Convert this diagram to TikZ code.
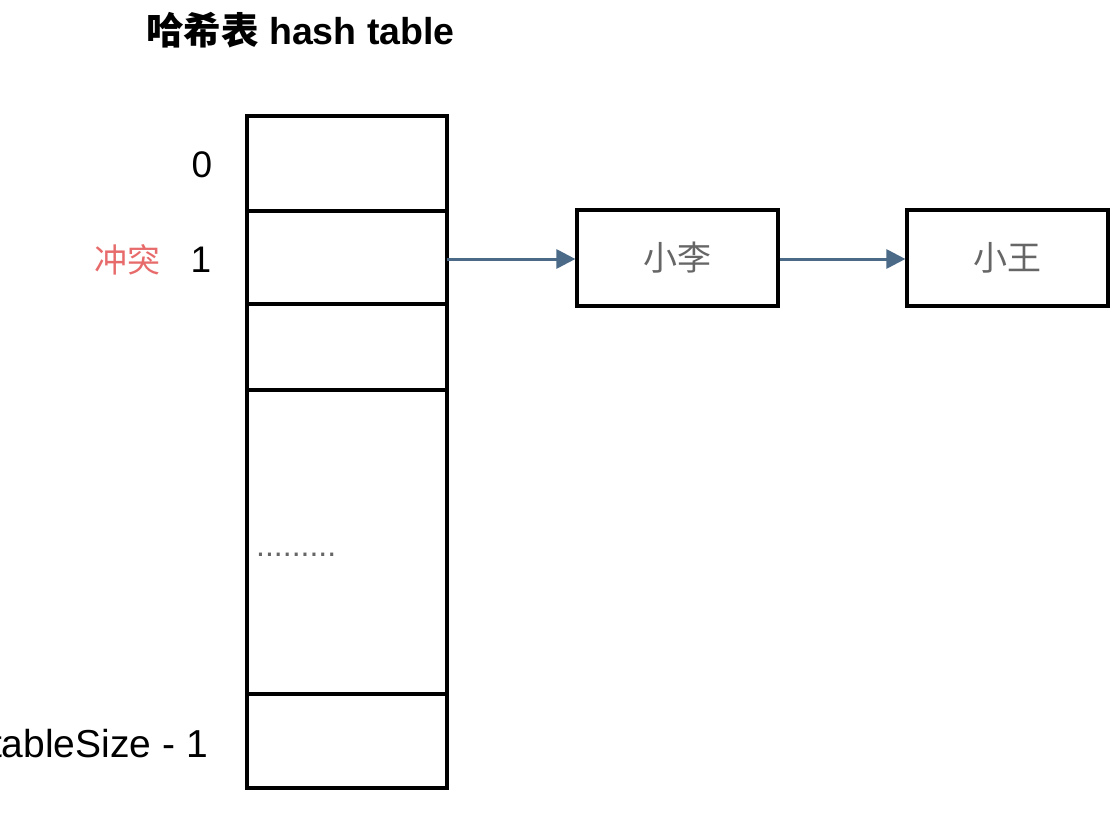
\documentclass[tikz,border=0pt]{standalone}
\usepackage{fontspec}
\setmainfont{Liberation Sans}
\newfontfamily\cjk{Noto Sans CJK SC}
\usetikzlibrary{arrows.meta}
\definecolor{arrowblue}{HTML}{4A6A88}
\definecolor{conflictred}{HTML}{E86B6B}
\definecolor{textgray}{HTML}{666666}
\tikzset{
  cell/.style={draw=black, line width=3.2pt},
  label/.style={font=\fontsize{37}{40}\selectfont, text=black},
  link/.style={draw=arrowblue, line width=3pt, -{Triangle[length=19pt,width=19pt]}},
  item/.style={draw=black, line width=3.2pt, minimum width=201pt, minimum height=96pt, inner sep=0pt,
    font=\cjk\fontsize{34}{36}\selectfont, text=textgray}
}
\begin{document}
\begin{tikzpicture}[x=1pt,y=-1pt]
\clip (0,0) rectangle (1118,813);
\fill[white] (0,0) rectangle (1118,813);
% title
\node[font=\bfseries\fontsize{37.5}{40}\selectfont, anchor=west, inner sep=0pt] (title) at (146,30) {{\cjk\bfseries 哈希表} hash table};
% hash table cells
\draw[cell] (247,116) rectangle (447,211);
\draw[cell] (247,211) rectangle (447,304);
\draw[cell] (247,304) rectangle (447,390);
\draw[cell] (247,390) rectangle (447,694);
\draw[cell] (247,694) rectangle (447,788);
\coordinate (slot1) at (447,259);
% labels
\node[label] (l0) at (202,165) {0};
\node[label] (l1) at (201,260) {1};
\node[font=\cjk\fontsize{33}{36}\selectfont, text=conflictred] (conf) at (127,260) {冲突};
\node[label, font=\fontsize{39}{42}\selectfont, anchor=east, inner sep=0pt] (ln) at (208,744) {tableSize - 1};
\node[font=\fontsize{32}{34}\selectfont, text=textgray, anchor=west, inner sep=0pt] (dots) at (256,555) {.........};
% chain
\node[item] (li) at (677.5,258) {小李};
\node[item] (wang) at (1007.5,258) {小王};
\draw[link] (slot1) -- (li.west |- slot1);
\draw[link] (li.east |- slot1) -- (wang.west |- slot1);
\end{tikzpicture}
\end{document}
